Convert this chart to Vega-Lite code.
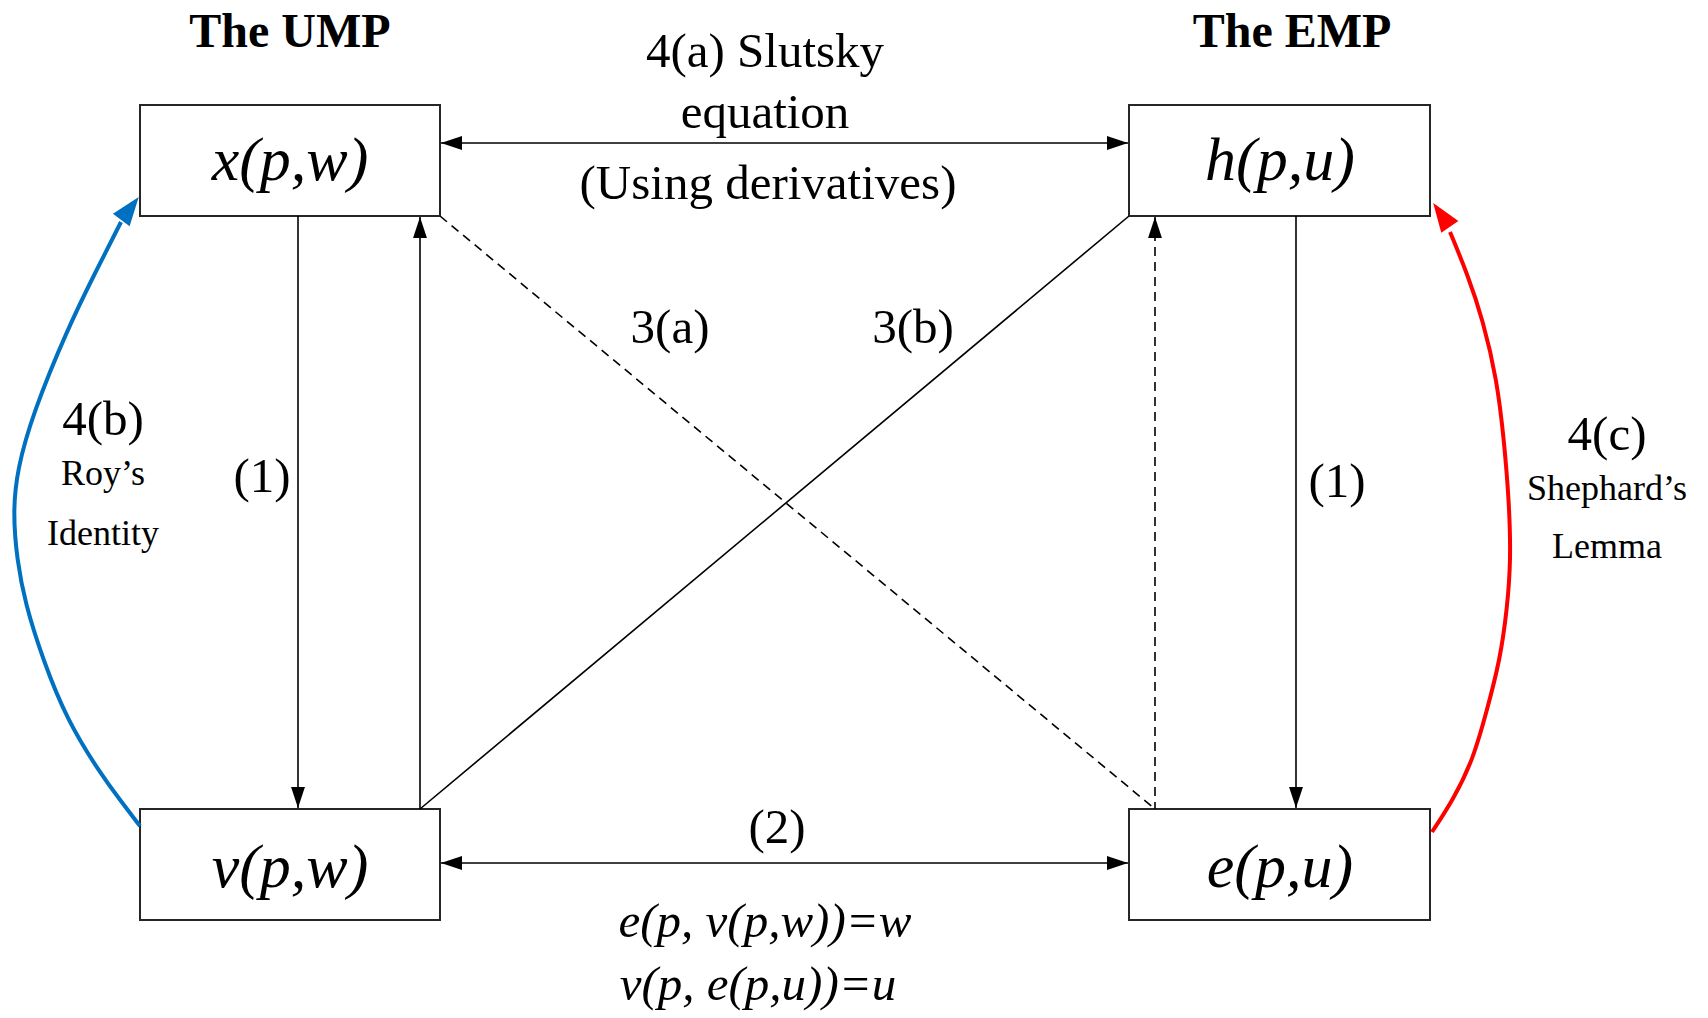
{
  "$schema": "https://vega.github.io/schema/vega-lite/v6.json",
  "width": 1708,
  "height": 1018,
  "autosize": {"type": "fit", "contains": "padding"},
  "padding": 0,
  "background": "white",
  "config": {"view": {"stroke": null}},
  "datasets": {
    "boxes": [
      {"x1": 140, "x2": 440, "y1": 105, "y2": 216},
      {"x1": 1129, "x2": 1430, "y1": 105, "y2": 216},
      {"x1": 140, "x2": 440, "y1": 809, "y2": 920},
      {"x1": 1129, "x2": 1430, "y1": 809, "y2": 920}
    ],
    "segments": [
      {"x": 441, "y": 143, "x2": 1128, "y2": 143, "style": "solid"},
      {"x": 441, "y": 863, "x2": 1128, "y2": 863, "style": "solid"},
      {"x": 298, "y": 216, "x2": 298, "y2": 808, "style": "solid"},
      {"x": 420, "y": 217, "x2": 420, "y2": 809, "style": "solid"},
      {"x": 420, "y": 809, "x2": 1129, "y2": 216, "style": "solid"},
      {"x": 1296, "y": 216, "x2": 1296, "y2": 808, "style": "solid"},
      {"x": 440, "y": 216, "x2": 1155, "y2": 809, "style": "dashed"},
      {"x": 1155, "y": 217, "x2": 1155, "y2": 809, "style": "dashed"}
    ],
    "heads": [
      {"x": 451.5, "y": 143, "angle": 270},
      {"x": 1117.5, "y": 143, "angle": 90},
      {"x": 451.5, "y": 863, "angle": 270},
      {"x": 1117.5, "y": 863, "angle": 90},
      {"x": 298, "y": 797.5, "angle": 180},
      {"x": 420, "y": 227.5, "angle": 0},
      {"x": 1155, "y": 227.5, "angle": 0},
      {"x": 1296, "y": 797.5, "angle": 180}
    ],
    "curveHeads": [
      {"x": 130, "y": 208.5, "angle": 37, "curve": "roy"},
      {"x": 1441.5, "y": 215, "angle": 325, "curve": "shephard"}
    ],
    "curves": [
      {"curve": "roy", "i": 0, "x": 140, "y": 826},
      {"curve": "roy", "i": 1, "x": 120, "y": 800},
      {"curve": "roy", "i": 2, "x": 100, "y": 773},
      {"curve": "roy", "i": 3, "x": 67, "y": 720},
      {"curve": "roy", "i": 4, "x": 43, "y": 660},
      {"curve": "roy", "i": 5, "x": 25, "y": 603},
      {"curve": "roy", "i": 6, "x": 17, "y": 560},
      {"curve": "roy", "i": 7, "x": 13, "y": 513},
      {"curve": "roy", "i": 8, "x": 17, "y": 470},
      {"curve": "roy", "i": 9, "x": 33, "y": 413},
      {"curve": "roy", "i": 10, "x": 67, "y": 330},
      {"curve": "roy", "i": 11, "x": 95, "y": 273},
      {"curve": "roy", "i": 12, "x": 121, "y": 222},
      {"curve": "shephard", "i": 0, "x": 1432, "y": 832},
      {"curve": "shephard", "i": 1, "x": 1453, "y": 800},
      {"curve": "shephard", "i": 2, "x": 1473, "y": 760},
      {"curve": "shephard", "i": 3, "x": 1487, "y": 710},
      {"curve": "shephard", "i": 4, "x": 1500, "y": 660},
      {"curve": "shephard", "i": 5, "x": 1507, "y": 610},
      {"curve": "shephard", "i": 6, "x": 1511, "y": 560},
      {"curve": "shephard", "i": 7, "x": 1509, "y": 500},
      {"curve": "shephard", "i": 8, "x": 1504, "y": 440},
      {"curve": "shephard", "i": 9, "x": 1497, "y": 380},
      {"curve": "shephard", "i": 10, "x": 1483, "y": 320},
      {"curve": "shephard", "i": 11, "x": 1467, "y": 273},
      {"curve": "shephard", "i": 12, "x": 1450, "y": 232}
    ],
    "texts": [
      {"role": "title", "t": "The UMP", "x": 290, "y": 47},
      {"role": "title", "t": "The EMP", "x": 1292, "y": 47},
      {"role": "box", "t": "x(p,w)", "x": 290, "y": 180},
      {"role": "box", "t": "h(p,u)", "x": 1280, "y": 180},
      {"role": "box", "t": "v(p,w)", "x": 290, "y": 887},
      {"role": "box", "t": "e(p,u)", "x": 1280, "y": 887},
      {"role": "label", "t": "4(a) Slutsky", "x": 765, "y": 67},
      {"role": "label", "t": "equation", "x": 765, "y": 128},
      {"role": "label", "t": "(Using derivatives)", "x": 768, "y": 199},
      {"role": "label", "t": "3(a)", "x": 670, "y": 343},
      {"role": "label", "t": "3(b)", "x": 913, "y": 343},
      {"role": "label", "t": "4(b)", "x": 103, "y": 435},
      {"role": "label", "t": "(1)", "x": 262, "y": 492},
      {"role": "label", "t": "(1)", "x": 1337, "y": 497},
      {"role": "label", "t": "4(c)", "x": 1607, "y": 450},
      {"role": "label", "t": "(2)", "x": 777, "y": 843},
      {"role": "small", "t": "Roy’s", "x": 103, "y": 485},
      {"role": "small", "t": "Identity", "x": 103, "y": 545},
      {"role": "small", "t": "Shephard’s", "x": 1607, "y": 500},
      {"role": "small", "t": "Lemma", "x": 1607, "y": 558},
      {"role": "formula", "t": "e(p, v(p,w))=w", "x": 765, "y": 937},
      {"role": "formula", "t": "v(p, e(p,u))=u", "x": 758, "y": 1000}
    ]
  },
  "layer": [
    {
      "data": {"name": "boxes"},
      "mark": {"type": "rect", "fill": "white", "stroke": "#262626", "strokeWidth": 2},
      "encoding": {
        "x": {"field": "x1", "type": "quantitative", "scale": {"domain": [0, 1708], "nice": false, "zero": false}, "axis": null},
        "x2": {"field": "x2"},
        "y": {"field": "y1", "type": "quantitative", "scale": {"domain": [0, 1018], "reverse": true, "nice": false, "zero": false}, "axis": null},
        "y2": {"field": "y2"}
      }
    },
    {
      "data": {"name": "segments"},
      "transform": [{"filter": "datum.style === 'solid'"}],
      "mark": {"type": "rule", "color": "black", "strokeWidth": 1.6},
      "encoding": {
        "x": {"field": "x", "type": "quantitative", "scale": {"domain": [0, 1708], "nice": false, "zero": false}, "axis": null},
        "x2": {"field": "x2"},
        "y": {"field": "y", "type": "quantitative", "scale": {"domain": [0, 1018], "reverse": true, "nice": false, "zero": false}, "axis": null},
        "y2": {"field": "y2"}
      }
    },
    {
      "data": {"name": "segments"},
      "transform": [{"filter": "datum.style === 'dashed'"}],
      "mark": {"type": "rule", "color": "black", "strokeWidth": 1.6, "strokeDash": [9, 6]},
      "encoding": {
        "x": {"field": "x", "type": "quantitative", "scale": {"domain": [0, 1708], "nice": false, "zero": false}, "axis": null},
        "x2": {"field": "x2"},
        "y": {"field": "y", "type": "quantitative", "scale": {"domain": [0, 1018], "reverse": true, "nice": false, "zero": false}, "axis": null},
        "y2": {"field": "y2"}
      }
    },
    {
      "data": {"name": "heads"},
      "mark": {"type": "point", "shape": "M0,-1L0.66,1L-0.66,1Z", "filled": true, "color": "black", "opacity": 1, "size": 441, "strokeWidth": 0},
      "encoding": {
        "x": {"field": "x", "type": "quantitative", "scale": {"domain": [0, 1708], "nice": false, "zero": false}, "axis": null},
        "y": {"field": "y", "type": "quantitative", "scale": {"domain": [0, 1018], "reverse": true, "nice": false, "zero": false}, "axis": null},
        "angle": {"field": "angle", "type": "quantitative", "scale": null}
      }
    },
    {
      "data": {"name": "curves"},
      "mark": {"type": "line", "interpolate": "basis", "strokeWidth": 4},
      "encoding": {
        "x": {"field": "x", "type": "quantitative", "scale": {"domain": [0, 1708], "nice": false, "zero": false}, "axis": null},
        "y": {"field": "y", "type": "quantitative", "scale": {"domain": [0, 1018], "reverse": true, "nice": false, "zero": false}, "axis": null},
        "order": {"field": "i", "type": "quantitative"},
        "color": {"field": "curve", "type": "nominal", "scale": {"domain": ["roy", "shephard"], "range": ["#0070C0", "#FF0000"]}, "legend": null}
      }
    },
    {
      "data": {"name": "curveHeads"},
      "mark": {"type": "point", "shape": "M0,-1L0.72,1L-0.72,1Z", "filled": true, "opacity": 1, "size": 841, "strokeWidth": 0},
      "encoding": {
        "x": {"field": "x", "type": "quantitative", "scale": {"domain": [0, 1708], "nice": false, "zero": false}, "axis": null},
        "y": {"field": "y", "type": "quantitative", "scale": {"domain": [0, 1018], "reverse": true, "nice": false, "zero": false}, "axis": null},
        "angle": {"field": "angle", "type": "quantitative", "scale": null},
        "color": {"field": "curve", "type": "nominal", "scale": {"domain": ["roy", "shephard"], "range": ["#0070C0", "#FF0000"]}, "legend": null}
      }
    },
    {
      "data": {"name": "texts"},
      "transform": [{"filter": "datum.role === 'title'"}],
      "mark": {"type": "text", "font": "Liberation Serif", "fontSize": 48, "fontWeight": "bold", "align": "center", "baseline": "alphabetic", "color": "black"},
      "encoding": {
        "x": {"field": "x", "type": "quantitative", "scale": {"domain": [0, 1708], "nice": false, "zero": false}, "axis": null},
        "y": {"field": "y", "type": "quantitative", "scale": {"domain": [0, 1018], "reverse": true, "nice": false, "zero": false}, "axis": null},
        "text": {"field": "t"}
      }
    },
    {
      "data": {"name": "texts"},
      "transform": [{"filter": "datum.role === 'box'"}],
      "mark": {"type": "text", "font": "Liberation Serif", "fontSize": 62, "fontStyle": "italic", "align": "center", "baseline": "alphabetic", "color": "black"},
      "encoding": {
        "x": {"field": "x", "type": "quantitative", "scale": {"domain": [0, 1708], "nice": false, "zero": false}, "axis": null},
        "y": {"field": "y", "type": "quantitative", "scale": {"domain": [0, 1018], "reverse": true, "nice": false, "zero": false}, "axis": null},
        "text": {"field": "t"}
      }
    },
    {
      "data": {"name": "texts"},
      "transform": [{"filter": "datum.role === 'label'"}],
      "mark": {"type": "text", "font": "Liberation Serif", "fontSize": 49, "align": "center", "baseline": "alphabetic", "color": "black"},
      "encoding": {
        "x": {"field": "x", "type": "quantitative", "scale": {"domain": [0, 1708], "nice": false, "zero": false}, "axis": null},
        "y": {"field": "y", "type": "quantitative", "scale": {"domain": [0, 1018], "reverse": true, "nice": false, "zero": false}, "axis": null},
        "text": {"field": "t"}
      }
    },
    {
      "data": {"name": "texts"},
      "transform": [{"filter": "datum.role === 'small'"}],
      "mark": {"type": "text", "font": "Liberation Serif", "fontSize": 36, "align": "center", "baseline": "alphabetic", "color": "black"},
      "encoding": {
        "x": {"field": "x", "type": "quantitative", "scale": {"domain": [0, 1708], "nice": false, "zero": false}, "axis": null},
        "y": {"field": "y", "type": "quantitative", "scale": {"domain": [0, 1018], "reverse": true, "nice": false, "zero": false}, "axis": null},
        "text": {"field": "t"}
      }
    },
    {
      "data": {"name": "texts"},
      "transform": [{"filter": "datum.role === 'formula'"}],
      "mark": {"type": "text", "font": "Liberation Serif", "fontSize": 49, "fontStyle": "italic", "align": "center", "baseline": "alphabetic", "color": "black"},
      "encoding": {
        "x": {"field": "x", "type": "quantitative", "scale": {"domain": [0, 1708], "nice": false, "zero": false}, "axis": null},
        "y": {"field": "y", "type": "quantitative", "scale": {"domain": [0, 1018], "reverse": true, "nice": false, "zero": false}, "axis": null},
        "text": {"field": "t"}
      }
    }
  ]
}
